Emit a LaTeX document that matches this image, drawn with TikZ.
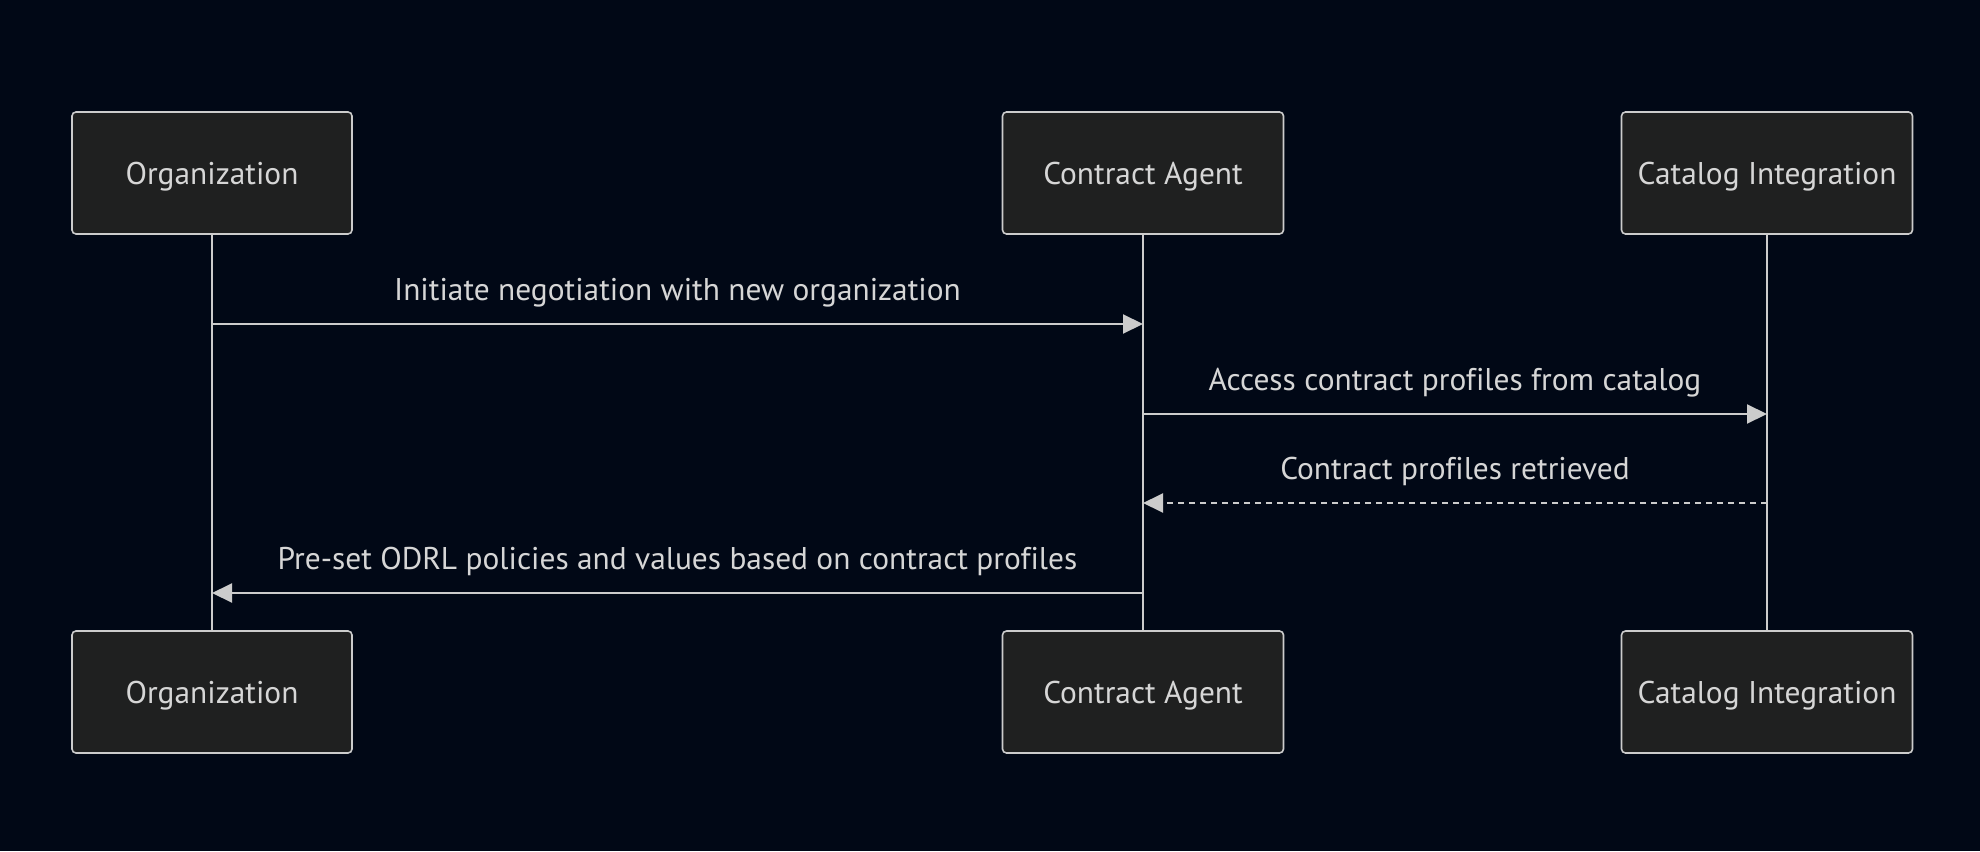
\documentclass[tikz,border=0pt]{standalone}
\usepackage{fontspec}
\setmainfont[Ligatures=NoCommon]{PT Sans}
\usepackage{tikz}
\usetikzlibrary{arrows.meta,positioning,calc}

\definecolor{bgnavy}{RGB}{1,8,22}
\definecolor{boxfill}{RGB}{31,32,32}
\definecolor{boxline}{RGB}{204,204,204}
\definecolor{msgtext}{RGB}{214,214,214}

\begin{document}
\begin{tikzpicture}[
  x=1pt, y=-1pt,
  >={Triangle[length=20pt, width=19pt]},
  actor/.style={draw=boxline, fill=boxfill, line width=1.6pt, rounded corners=4pt,
    minimum height=122pt, text=msgtext, text height=28pt, text depth=6pt,
    font=\fontsize{31.4}{37}\selectfont},
  life/.style={draw=boxline, line width=2.6pt},
  msg/.style={->, draw=boxline, line width=2pt},
  reply/.style={msg, dash pattern=on 6pt off 5pt},
  lbl/.style={anchor=base, text=msgtext, font=\fontsize{31.4}{37}\selectfont},
]

\fill[bgnavy] (0,0) rectangle (1980,851);
\useasboundingbox (0,0) rectangle (1980,851);

% Actors, top
\node[actor, minimum width=280pt] (orgtop)   at (212,173)  {Organization};
\node[actor, minimum width=281pt] (agenttop) at (1143,173) {Contract Agent};
\node[actor, minimum width=291pt] (cattop)   at (1767,173) {Catalog Integration};

% Actors, bottom
\node[actor, minimum width=280pt] (orgbot)   at (212,692)  {Organization};
\node[actor, minimum width=281pt] (agentbot) at (1143,692) {Contract Agent};
\node[actor, minimum width=291pt] (catbot)   at (1767,692) {Catalog Integration};

% Lifelines
\draw[life] (orgtop) -- (orgbot);
\draw[life] (agenttop) -- (agentbot);
\draw[life] (cattop) -- (catbot);

% Message points
\coordinate (m1a) at (orgtop |- 0,324);
\coordinate (m1b) at (agenttop |- 0,324);
\coordinate (m2a) at (agenttop |- 0,414);
\coordinate (m2b) at (cattop |- 0,414);
\coordinate (m3a) at (cattop |- 0,503);
\coordinate (m3b) at (agenttop |- 0,503);
\coordinate (m4a) at (agenttop |- 0,593);
\coordinate (m4b) at (orgtop |- 0,593);

% Messages
\draw[msg] (m1a) -- (m1b);
\node[lbl] (t1) at ($(m1a)!0.5!(m1b)+(0,-24)$) {Initiate negotiation with new organization};
\draw[msg] (m2a) -- (m2b);
\node[lbl] (t2) at ($(m2a)!0.5!(m2b)+(0,-24)$) {Access contract profiles from catalog};
\draw[reply] (m3a) -- (m3b);
\node[lbl] (t3) at ($(m3a)!0.5!(m3b)+(0,-24)$) {Contract profiles retrieved};
\draw[msg] (m4a) -- (m4b);
\node[lbl] (t4) at ($(m4a)!0.5!(m4b)+(0,-24)$) {Pre-set ODRL policies and values based on contract profiles};

\end{tikzpicture}
\end{document}
